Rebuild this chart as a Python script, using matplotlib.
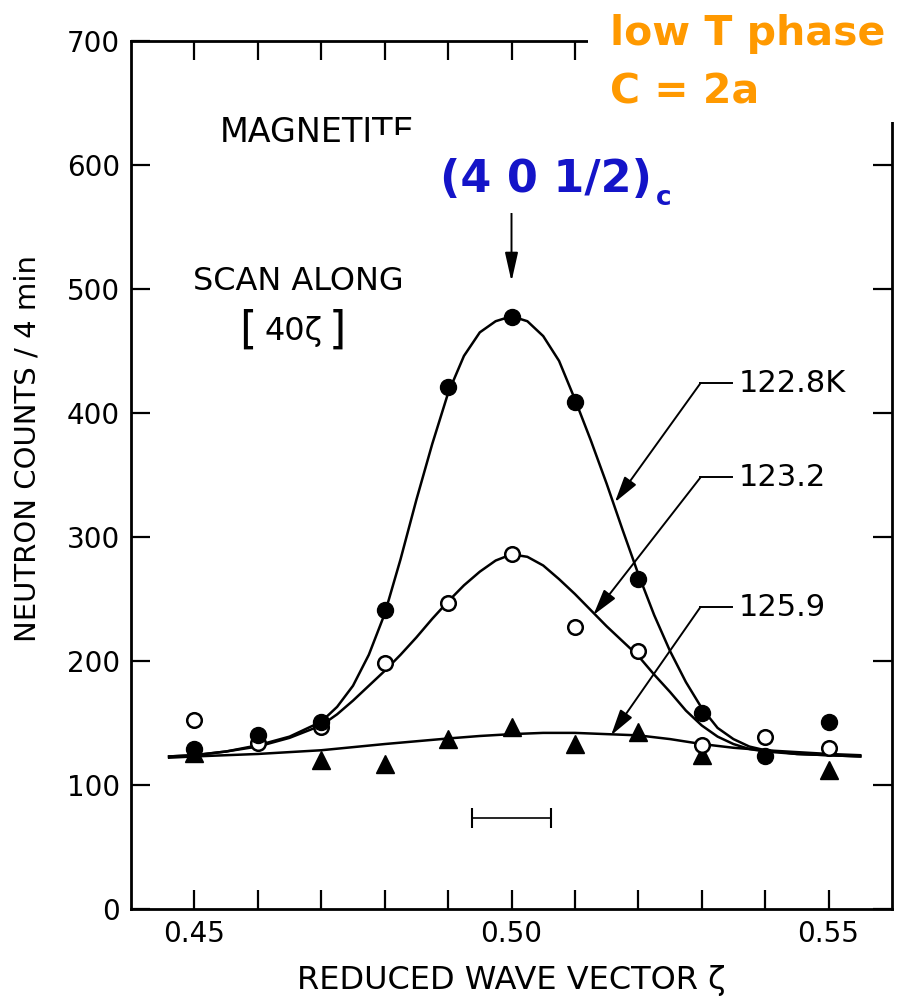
import matplotlib
matplotlib.use('Agg')
import matplotlib.pyplot as plt
from matplotlib.patches import Rectangle

# measured points: neutron counts / 4 min vs reduced wave vector zeta
zeta = [0.45, 0.46, 0.47, 0.48, 0.49, 0.50, 0.51, 0.52, 0.53, 0.54, 0.55]
counts_1228 = [129, 140, 151, 241, 421, 477, 409, 266, 158, 123, 151]
counts_1232 = [152, 134, 147, 198, 247, 286, 227, 208, 132, 139, 130]
zeta_1259 = [0.45, 0.47, 0.48, 0.49, 0.50, 0.51, 0.52, 0.53, 0.55]
counts_1259 = [126, 120, 117, 137, 147, 133, 143, 124, 112]

# hand drawn guide curves
curve_x_1228 = [0.446, 0.45, 0.455, 0.46, 0.465, 0.47, 0.4725, 0.475, 0.4775, 0.48,
                0.4825, 0.485, 0.4875, 0.49, 0.4925, 0.495, 0.4975, 0.50, 0.5025,
                0.505, 0.5075, 0.51, 0.5125, 0.515, 0.5175, 0.52, 0.5225, 0.525,
                0.5275, 0.53, 0.5325, 0.535, 0.5375, 0.54, 0.545, 0.55, 0.555]
curve_y_1228 = [123, 124, 127, 132, 139, 151, 163, 180, 205, 238,
                282, 330, 375, 416, 446, 465, 474, 478, 474,
                462, 442, 411, 378, 343, 306, 270, 237, 208,
                183, 162, 146, 137, 131, 128, 125, 124, 123]
curve_x_1232 = [0.446, 0.45, 0.455, 0.46, 0.465, 0.47, 0.4725, 0.475, 0.4775, 0.48,
                0.4825, 0.485, 0.4875, 0.49, 0.4925, 0.495, 0.4975, 0.50, 0.5025,
                0.505, 0.5075, 0.51, 0.5125, 0.515, 0.5175, 0.52, 0.5225, 0.525,
                0.5275, 0.53, 0.5325, 0.535, 0.5375, 0.54, 0.545, 0.55, 0.555]
curve_y_1232 = [123, 124, 127, 131, 138, 148, 157, 168, 180, 192,
                205, 219, 234, 248, 261, 272, 281, 286, 284,
                277, 266, 254, 241, 228, 216, 204, 189, 175,
                160, 148, 139, 133, 129, 127, 125, 124, 123]
curve_x_1259 = [0.446, 0.45, 0.46, 0.47, 0.48, 0.49, 0.495, 0.50, 0.505, 0.51,
                0.515, 0.52, 0.525, 0.53, 0.535, 0.54, 0.545, 0.55, 0.555]
curve_y_1259 = [122, 123, 125, 128, 133, 137.5, 139.5, 141, 142, 142,
                141, 140, 137, 133, 130, 128, 126.5, 125, 124]

x_ticks = [0.45, 0.46, 0.47, 0.48, 0.49, 0.50, 0.51, 0.52, 0.53, 0.54, 0.55]
x_ticklabels = ['0.45', '', '', '', '', '0.50', '', '', '', '', '0.55']
y_ticks = [0, 100, 200, 300, 400, 500, 600, 700]

fig = plt.figure(figsize=(9.05, 9.97), dpi=100)
ax = fig.add_axes([0.1448, 0.0883, 0.8408, 0.8706])

# curves
for cx, cy in [(curve_x_1228, curve_y_1228), (curve_x_1232, curve_y_1232),
               (curve_x_1259, curve_y_1259)]:
    ax.plot(cx, cy, '-', color='black', linewidth=1.8, zorder=2,
            solid_joinstyle='round')

# points
ax.plot(zeta_1259, counts_1259, '^', color='black', markersize=13, zorder=3)
ax.plot(zeta, counts_1232, 'o', markerfacecolor='white', markeredgecolor='black',
        markeredgewidth=1.8, markersize=10.5, zorder=4)
ax.plot(zeta, counts_1228, 'o', color='black', markersize=11.5, zorder=5)

# resolution bar
ax.errorbar(0.5, 73, xerr=0.0063, color='black', linewidth=1.2, capsize=7,
            capthick=1.5, zorder=3)

# temperature labels with leader arrows
arrow_kw = dict(arrowstyle='-|>,head_length=0.8,head_width=0.22', color='black',
                lw=1.4, mutation_scale=20, shrinkA=0, shrinkB=0)
for lbl, y_lbl, tip in [('122.8K', 424, (0.5163, 328)),
                        ('123.2', 348, (0.5129, 237)),
                        ('125.9', 243.5, (0.5157, 140))]:
    ax.plot([0.5347, 0.5298], [y_lbl, y_lbl], color='black', linewidth=1.4, zorder=3)
    ax.annotate('', xy=tip, xytext=(0.5298, y_lbl), arrowprops=arrow_kw, zorder=3)
    ax.text(0.5358, y_lbl, lbl, fontsize=22, ha='left', va='center')

# peak marker arrow
ax.annotate('', xy=(0.5, 506), xytext=(0.5, 561),
            arrowprops=dict(arrowstyle='-|>,head_length=0.8,head_width=0.18',
                            color='black', lw=1.4, mutation_scale=22,
                            shrinkA=0, shrinkB=0))

ax.text(0.4540, 626, 'MAGNETITE', fontsize=24, ha='left', va='center')
ax.text(0.4497, 506, 'SCAN ALONG', fontsize=23, ha='left', va='center')
ax.text(0.4584, 467, '[', fontsize=32, ha='center', va='center')
ax.text(0.4656, 466, '40ζ', fontsize=23, ha='center', va='center')
ax.text(0.4726, 467, ']', fontsize=32, ha='center', va='center')

ax.set_xlim(0.44, 0.56)
ax.set_ylim(0, 700)
ax.set_xticks(x_ticks)
ax.set_xticklabels(x_ticklabels)
ax.set_yticks(y_ticks)
ax.tick_params(direction='in', top=True, right=True, length=14, width=1.6,
               labelsize=20, pad=8)
for sp in ax.spines.values():
    sp.set_linewidth(2)

ax.set_xlabel('REDUCED WAVE VECTOR ζ', fontsize=23, labelpad=12)
ax.set_ylabel('NEUTRON COUNTS / 4 min', fontsize=21)
ax.yaxis.set_label_coords(-0.118, 0.53)

# pasted-on labels with white backgrounds
fig.add_artist(Rectangle((588 / 905, 1 - 122 / 997), 317 / 905, 122 / 997,
                         transform=fig.transFigure, facecolor='white',
                         edgecolor='none', zorder=5))
fig.add_artist(Rectangle((372 / 905, 1 - 213 / 997), 325 / 905, 78 / 997,
                         transform=fig.transFigure, facecolor='white',
                         edgecolor='none', zorder=5))
fig.text(610 / 905, 1 - 45 / 997, 'low T phase', fontsize=29.5, fontweight='bold',
         color='#FF9900', ha='left', va='baseline', zorder=6)
fig.text(610 / 905, 1 - 103 / 997, 'C = 2a', fontsize=29.5, fontweight='bold',
         color='#FF9900', ha='left', va='baseline', zorder=6)
fig.text(440 / 905, 1 - 192 / 997, '(4 0 1/2)', fontsize=32, fontweight='bold',
         color='#1414C8', ha='left', va='baseline', zorder=6)
fig.text(656 / 905, 1 - 205 / 997, 'c', fontsize=19, fontweight='bold',
         color='#1414C8', ha='left', va='baseline', zorder=6)

fig.savefig('out.png', dpi=100)
